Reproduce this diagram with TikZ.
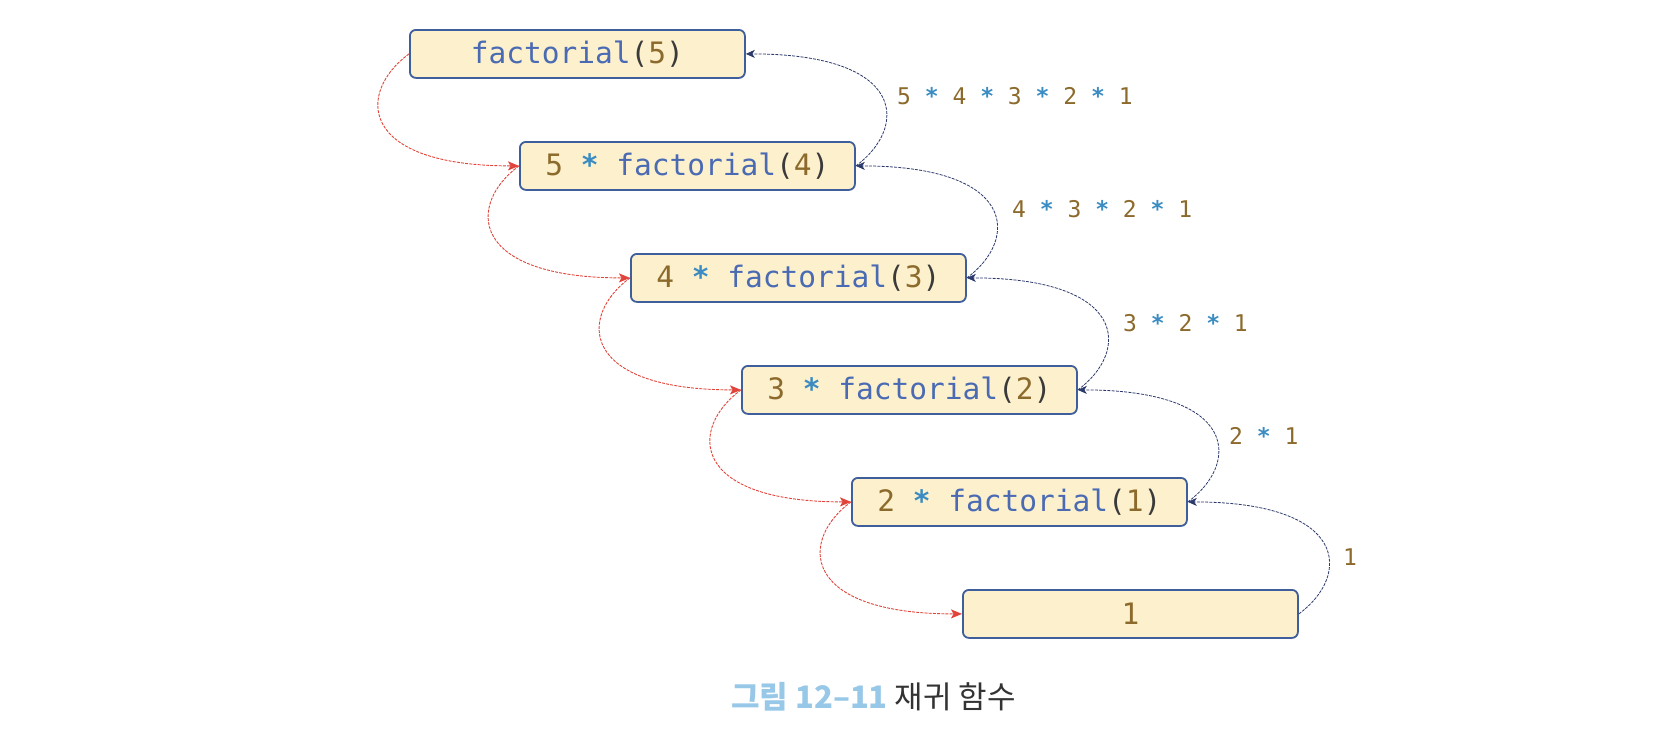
\documentclass[tikz,border=0pt]{standalone}
\usepackage{fontspec}
\usetikzlibrary{arrows.meta}
\newfontfamily\monof{DejaVu Sans Mono}
\newfontfamily\krf{Noto Sans CJK KR}
\definecolor{boxfill}{HTML}{FCF0CD}
\definecolor{boxdraw}{HTML}{3F5E9C}
\definecolor{numc}{HTML}{8C6A2C}
\definecolor{starc}{HTML}{3A8CC2}
\definecolor{fnc}{HTML}{4A6BB3}
\definecolor{parc}{HTML}{3A3A3A}
\definecolor{callc}{HTML}{E0443A}
\definecolor{retc}{HTML}{2C3A6B}
\definecolor{capblue}{HTML}{98C8E8}
\definecolor{capdark}{HTML}{333333}
\newcommand\nm[1]{\textcolor{numc}{#1}}
\newcommand\st{\textcolor{starc}{\bfseries *}}
\newcommand\fn{\textcolor{fnc}{factorial}}
\newcommand\op{\textcolor{parc}{(}}
\newcommand\cp{\textcolor{parc}{)}}
\begin{document}
\begin{tikzpicture}[x=1pt,y=-1pt,
 callbox/.style={draw=boxdraw, fill=boxfill, line width=1.8pt, rounded corners=6pt, minimum width=335pt, minimum height=48pt, inner sep=0pt, anchor=north west, font=\monof\fontsize{29.5}{30}\selectfont},
 steplabel/.style={anchor=west, inner sep=0pt, font=\monof\fontsize{23}{24}\selectfont},
 callarrow/.style={draw=callc, line width=0.9pt, dash pattern=on 3pt off 1.2pt, -{Stealth[length=11pt,width=9pt,inset=2.5pt]}},
 retarrow/.style={draw=retc, line width=0.8pt, dash pattern=on 3pt off 1.2pt, -{Stealth[length=9pt,width=8pt,inset=2.5pt]}},
]
\useasboundingbox (0,0) rectangle (1678,742);
\node[callbox] (b1) at (409,29) {\fn\op\nm{5}\cp};
\node[callbox] (b2) at (519,141) {\nm{5} \st{} \fn\op\nm{4}\cp};
\node[callbox] (b3) at (630,253) {\nm{4} \st{} \fn\op\nm{3}\cp};
\node[callbox] (b4) at (741,365) {\nm{3} \st{} \fn\op\nm{2}\cp};
\node[callbox] (b5) at (851,477) {\nm{2} \st{} \fn\op\nm{1}\cp};
\node[callbox] (b6) at (962,589) {\nm{1}};
\foreach \a/\b in {b1/b2,b2/b3,b3/b4,b4/b5,b5/b6}{
  \draw[callarrow] (\a.west) .. controls +(-52,38) and +(-162,0) .. (\b.west);
  \draw[retarrow] (\b.east) .. controls +(52,-38) and +(162,0) .. (\a.east);
}
\node[steplabel] (l1) at (897,96) {\nm{5} \st{} \nm{4} \st{} \nm{3} \st{} \nm{2} \st{} \nm{1}};
\node[steplabel] (l2) at (1012,209) {\nm{4} \st{} \nm{3} \st{} \nm{2} \st{} \nm{1}};
\node[steplabel] (l3) at (1123,323) {\nm{3} \st{} \nm{2} \st{} \nm{1}};
\node[steplabel] (l4) at (1229,436) {\nm{2} \st{} \nm{1}};
\node[steplabel] (l5) at (1343,557) {\nm{1}};
\node[font=\krf\fontsize{31}{33}\selectfont] (cap) at (873.5,697) {\textcolor{capblue}{\bfseries 그림 12–11} \textcolor{capdark}{재귀 함수}};
\end{tikzpicture}
\end{document}
